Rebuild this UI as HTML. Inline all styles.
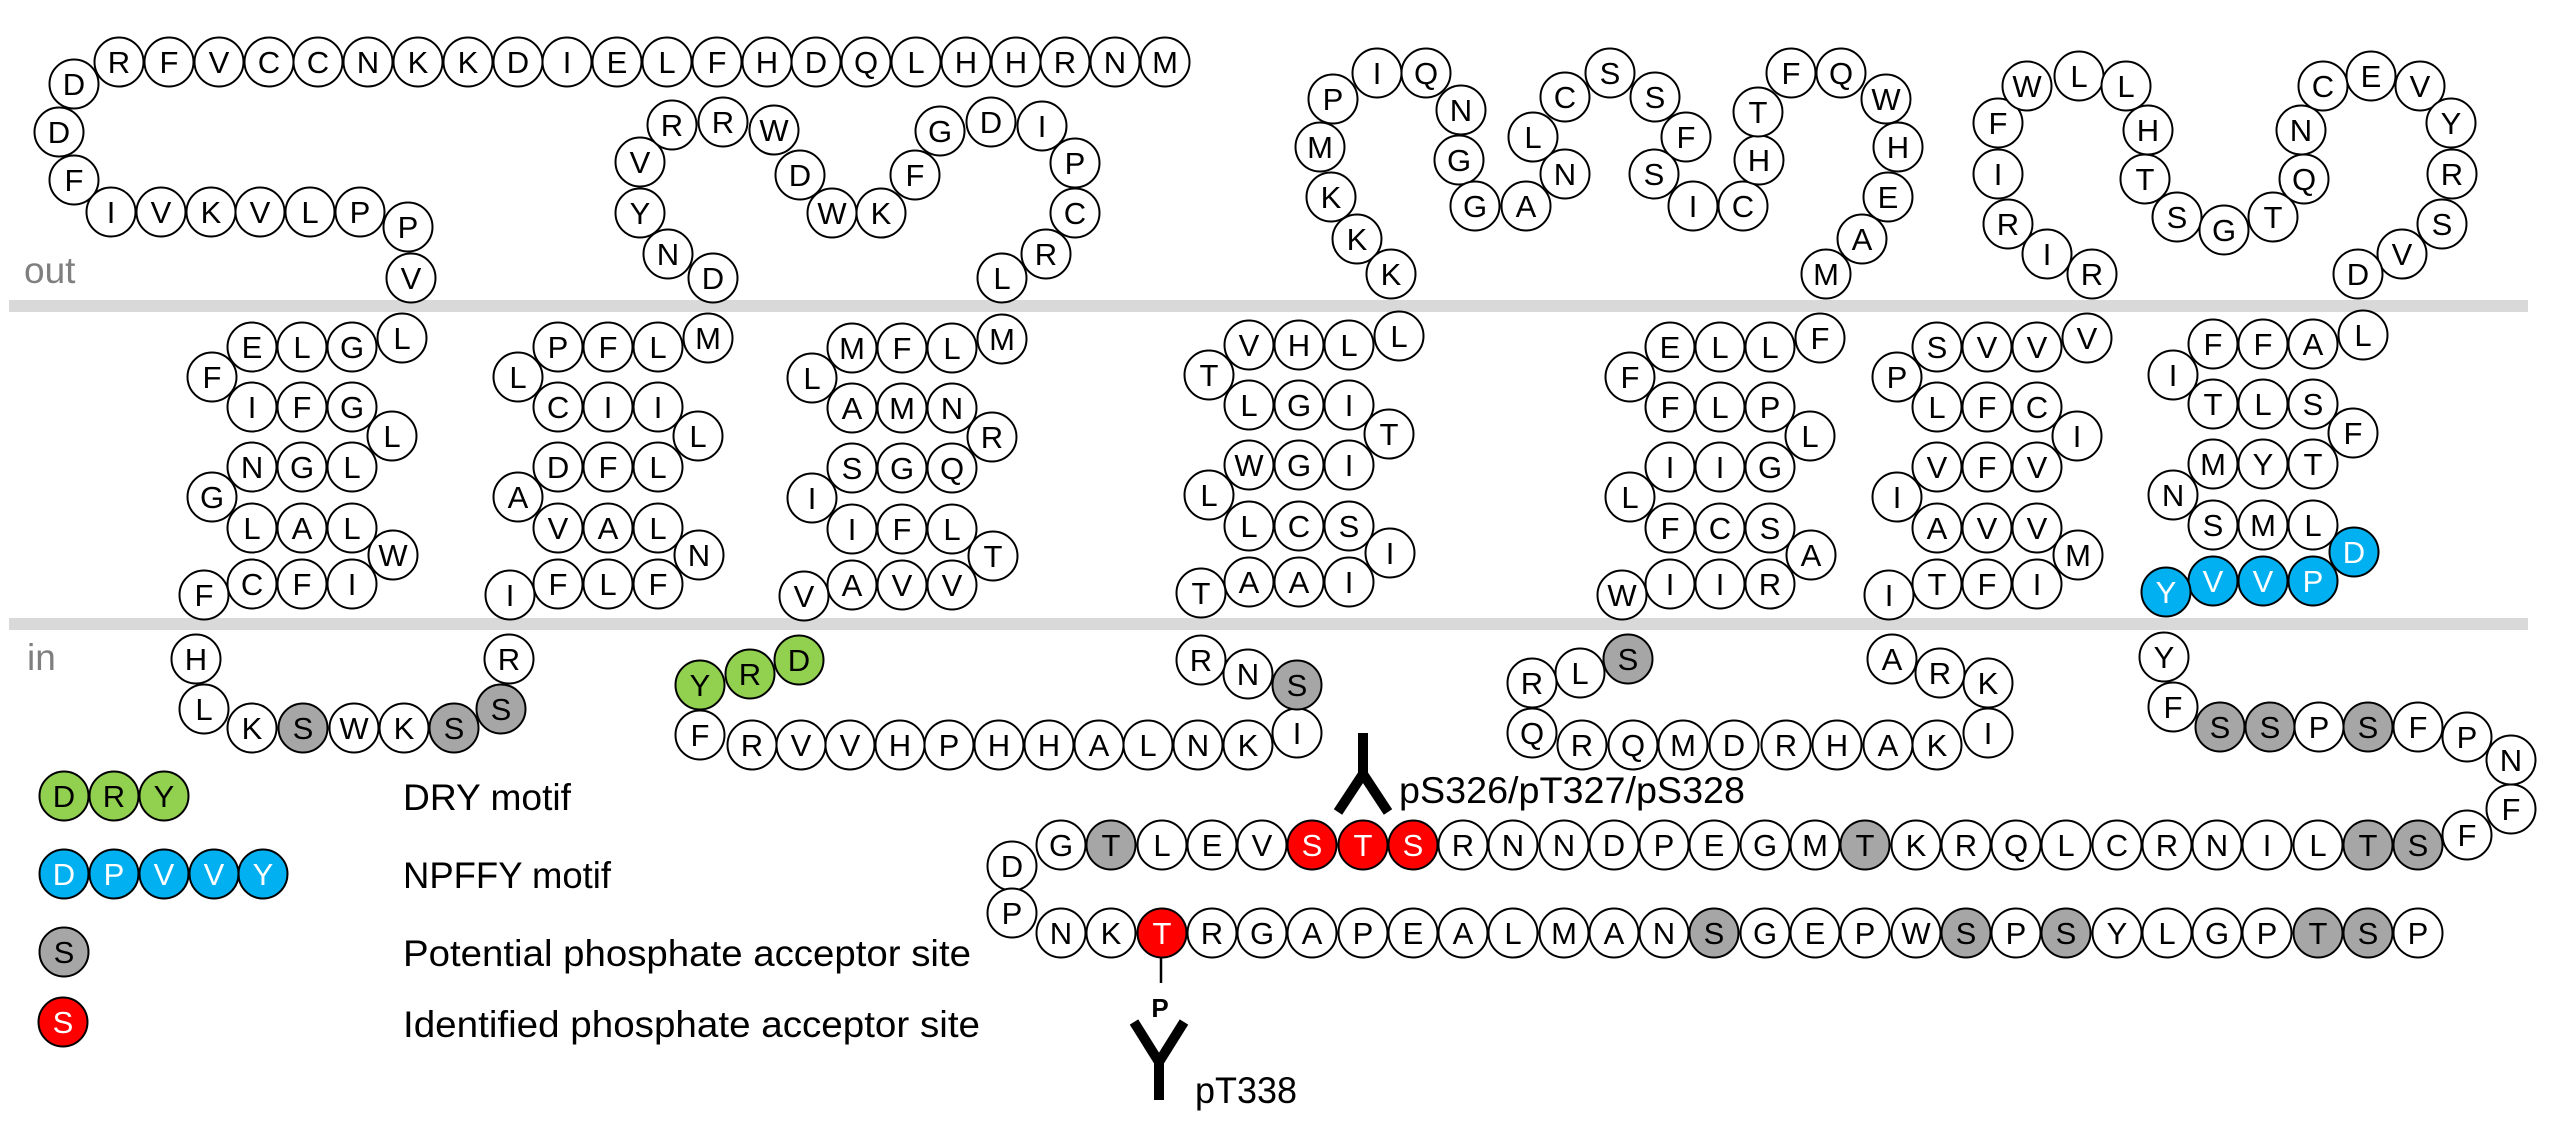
<!DOCTYPE html>
<html><head><meta charset="utf-8"><style>
html,body{margin:0;padding:0;background:#fff;}
svg{display:block;}
circle{fill:#fff;stroke:#000;stroke-width:2;}
circle.g{fill:#a6a6a6;}
circle.r{fill:#ff0000;}
circle.gr{fill:#92d050;}
circle.b{fill:#00b0f0;}
text{font-family:"Liberation Sans",sans-serif;}
.res text{font-size:31px;text-anchor:middle;fill:#000;}
.res text.w{fill:#fff;}
.lab{font-size:37px;fill:#000;}
.io{font-size:37px;fill:#7f7f7f;}
</style></head><body>
<svg width="2560" height="1128" viewBox="0 0 2560 1128" xmlns="http://www.w3.org/2000/svg">
<rect x="0" y="0" width="2560" height="1128" fill="#fff"/>
<rect x="9" y="300" width="2519" height="12" fill="#d9d9d9"/>
<rect x="9" y="618" width="2519" height="12" fill="#d9d9d9"/>
<text class="io" x="24" y="283">out</text>
<text class="io" x="27" y="670">in</text>

<g class="res">
<!-- N-term top row -->
<circle cx="119" cy="62" r="24.5"/><text x="119" y="73">R</text>
<circle cx="169" cy="62" r="24.5"/><text x="169" y="73">F</text>
<circle cx="219" cy="62" r="24.5"/><text x="219" y="73">V</text>
<circle cx="269" cy="62" r="24.5"/><text x="269" y="73">C</text>
<circle cx="318" cy="62" r="24.5"/><text x="318" y="73">C</text>
<circle cx="368" cy="62" r="24.5"/><text x="368" y="73">N</text>
<circle cx="418" cy="62" r="24.5"/><text x="418" y="73">K</text>
<circle cx="468" cy="62" r="24.5"/><text x="468" y="73">K</text>
<circle cx="518" cy="62" r="24.5"/><text x="518" y="73">D</text>
<circle cx="567" cy="62" r="24.5"/><text x="567" y="73">I</text>
<circle cx="617" cy="62" r="24.5"/><text x="617" y="73">E</text>
<circle cx="667" cy="62" r="24.5"/><text x="667" y="73">L</text>
<circle cx="717" cy="62" r="24.5"/><text x="717" y="73">F</text>
<circle cx="767" cy="62" r="24.5"/><text x="767" y="73">H</text>
<circle cx="816" cy="62" r="24.5"/><text x="816" y="73">D</text>
<circle cx="866" cy="62" r="24.5"/><text x="866" y="73">Q</text>
<circle cx="916" cy="62" r="24.5"/><text x="916" y="73">L</text>
<circle cx="966" cy="62" r="24.5"/><text x="966" y="73">H</text>
<circle cx="1016" cy="62" r="24.5"/><text x="1016" y="73">H</text>
<circle cx="1065" cy="62" r="24.5"/><text x="1065" y="73">R</text>
<circle cx="1115" cy="62" r="24.5"/><text x="1115" y="73">N</text>
<circle cx="1165" cy="62" r="24.5"/><text x="1165" y="73">M</text>
<circle cx="74" cy="84" r="24.5"/><text x="74" y="95">D</text>
<circle cx="59" cy="132" r="24.5"/><text x="59" y="143">D</text>
<circle cx="74" cy="180" r="24.5"/><text x="74" y="191">F</text>
<circle cx="111" cy="212" r="24.5"/><text x="111" y="223">I</text>
<circle cx="161" cy="212" r="24.5"/><text x="161" y="223">V</text>
<circle cx="211" cy="212" r="24.5"/><text x="211" y="223">K</text>
<circle cx="260" cy="212" r="24.5"/><text x="260" y="223">V</text>
<circle cx="310" cy="212" r="24.5"/><text x="310" y="223">L</text>
<circle cx="360" cy="212" r="24.5"/><text x="360" y="223">P</text>
<circle cx="408" cy="227" r="24.5"/><text x="408" y="238">P</text>
<circle cx="411" cy="278" r="24.5"/><text x="411" y="289">V</text>

<!-- ECL1 -->
<circle cx="640" cy="162" r="24.5"/><text x="640" y="173">V</text>
<circle cx="640" cy="213" r="24.5"/><text x="640" y="224">Y</text>
<circle cx="668" cy="254" r="24.5"/><text x="668" y="265">N</text>
<circle cx="713" cy="278" r="24.5"/><text x="713" y="289">D</text>
<circle cx="672" cy="125" r="24.5"/><text x="672" y="136">R</text>
<circle cx="723" cy="122" r="24.5"/><text x="723" y="133">R</text>
<circle cx="774" cy="130" r="24.5"/><text x="774" y="141">W</text>
<circle cx="800" cy="175" r="24.5"/><text x="800" y="186">D</text>
<circle cx="832" cy="213" r="24.5"/><text x="832" y="224">W</text>
<circle cx="881" cy="213" r="24.5"/><text x="881" y="224">K</text>
<circle cx="915" cy="175" r="24.5"/><text x="915" y="186">F</text>
<circle cx="940" cy="131" r="24.5"/><text x="940" y="142">G</text>
<circle cx="991" cy="122" r="24.5"/><text x="991" y="133">D</text>
<circle cx="1042" cy="126" r="24.5"/><text x="1042" y="137">I</text>
<circle cx="1075" cy="163" r="24.5"/><text x="1075" y="174">P</text>
<circle cx="1075" cy="213" r="24.5"/><text x="1075" y="224">C</text>
<circle cx="1046" cy="254" r="24.5"/><text x="1046" y="265">R</text>
<circle cx="1002" cy="278" r="24.5"/><text x="1002" y="289">L</text>

<!-- ECL2 -->
<circle cx="1320" cy="147" r="24.5"/><text x="1320" y="158">M</text>
<circle cx="1331" cy="197" r="24.5"/><text x="1331" y="208">K</text>
<circle cx="1357" cy="239" r="24.5"/><text x="1357" y="250">K</text>
<circle cx="1391" cy="274" r="24.5"/><text x="1391" y="285">K</text>
<circle cx="1333" cy="99" r="24.5"/><text x="1333" y="110">P</text>
<circle cx="1377" cy="73" r="24.5"/><text x="1377" y="84">I</text>
<circle cx="1426" cy="73" r="24.5"/><text x="1426" y="84">Q</text>
<circle cx="1461" cy="110" r="24.5"/><text x="1461" y="121">N</text>
<circle cx="1459" cy="160" r="24.5"/><text x="1459" y="171">G</text>
<circle cx="1475" cy="206" r="24.5"/><text x="1475" y="217">G</text>
<circle cx="1526" cy="206" r="24.5"/><text x="1526" y="217">A</text>
<circle cx="1565" cy="174" r="24.5"/><text x="1565" y="185">N</text>
<circle cx="1533" cy="137" r="24.5"/><text x="1533" y="148">L</text>
<circle cx="1565" cy="97" r="24.5"/><text x="1565" y="108">C</text>
<circle cx="1610" cy="73" r="24.5"/><text x="1610" y="84">S</text>
<circle cx="1655" cy="97" r="24.5"/><text x="1655" y="108">S</text>
<circle cx="1686" cy="137" r="24.5"/><text x="1686" y="148">F</text>
<circle cx="1654" cy="174" r="24.5"/><text x="1654" y="185">S</text>
<circle cx="1693" cy="206" r="24.5"/><text x="1693" y="217">I</text>
<circle cx="1743" cy="206" r="24.5"/><text x="1743" y="217">C</text>
<circle cx="1759" cy="160" r="24.5"/><text x="1759" y="171">H</text>
<circle cx="1758" cy="112" r="24.5"/><text x="1758" y="123">T</text>
<circle cx="1791" cy="73" r="24.5"/><text x="1791" y="84">F</text>
<circle cx="1841" cy="73" r="24.5"/><text x="1841" y="84">Q</text>
<circle cx="1886" cy="99" r="24.5"/><text x="1886" y="110">W</text>
<circle cx="1898" cy="147" r="24.5"/><text x="1898" y="158">H</text>
<circle cx="1888" cy="197" r="24.5"/><text x="1888" y="208">E</text>
<circle cx="1862" cy="239" r="24.5"/><text x="1862" y="250">A</text>
<circle cx="1826" cy="274" r="24.5"/><text x="1826" y="285">M</text>

<!-- ECL3 -->
<circle cx="1998" cy="123" r="24.5"/><text x="1998" y="134">F</text>
<circle cx="2027" cy="86" r="24.5"/><text x="2027" y="97">W</text>
<circle cx="2079" cy="76" r="24.5"/><text x="2079" y="87">L</text>
<circle cx="2126" cy="86" r="24.5"/><text x="2126" y="97">L</text>
<circle cx="2148" cy="130" r="24.5"/><text x="2148" y="141">H</text>
<circle cx="2145" cy="179" r="24.5"/><text x="2145" y="190">T</text>
<circle cx="2177" cy="217" r="24.5"/><text x="2177" y="228">S</text>
<circle cx="2224" cy="230" r="24.5"/><text x="2224" y="241">G</text>
<circle cx="2273" cy="217" r="24.5"/><text x="2273" y="228">T</text>
<circle cx="2304" cy="179" r="24.5"/><text x="2304" y="190">Q</text>
<circle cx="2301" cy="130" r="24.5"/><text x="2301" y="141">N</text>
<circle cx="2323" cy="86" r="24.5"/><text x="2323" y="97">C</text>
<circle cx="2371" cy="76" r="24.5"/><text x="2371" y="87">E</text>
<circle cx="2420" cy="86" r="24.5"/><text x="2420" y="97">V</text>
<circle cx="2451" cy="123" r="24.5"/><text x="2451" y="134">Y</text>
<circle cx="2452" cy="174" r="24.5"/><text x="2452" y="185">R</text>
<circle cx="2442" cy="224" r="24.5"/><text x="2442" y="235">S</text>
<circle cx="2402" cy="254" r="24.5"/><text x="2402" y="265">V</text>
<circle cx="2358" cy="274" r="24.5"/><text x="2358" y="285">D</text>
<circle cx="1998" cy="174" r="24.5"/><text x="1998" y="185">I</text>
<circle cx="2008" cy="224" r="24.5"/><text x="2008" y="235">R</text>
<circle cx="2047" cy="254" r="24.5"/><text x="2047" y="265">I</text>
<circle cx="2092" cy="274" r="24.5"/><text x="2092" y="285">R</text>

<!-- TM1 -->
<g transform="translate(252,0)">
<circle cx="0" cy="347" r="24.5"/><text x="0" y="358">E</text>
<circle cx="50" cy="347" r="24.5"/><text x="50" y="358">L</text>
<circle cx="100" cy="347" r="24.5"/><text x="100" y="358">G</text>
<circle cx="150" cy="338" r="24.5"/><text x="150" y="349">L</text>
<circle cx="-40" cy="377" r="24.5"/><text x="-40" y="388">F</text>
<circle cx="0" cy="407" r="24.5"/><text x="0" y="418">I</text>
<circle cx="50" cy="407" r="24.5"/><text x="50" y="418">F</text>
<circle cx="100" cy="407" r="24.5"/><text x="100" y="418">G</text>
<circle cx="140" cy="436" r="24.5"/><text x="140" y="447">L</text>
<circle cx="0" cy="467" r="24.5"/><text x="0" y="478">N</text>
<circle cx="50" cy="467" r="24.5"/><text x="50" y="478">G</text>
<circle cx="100" cy="467" r="24.5"/><text x="100" y="478">L</text>
<circle cx="-40" cy="497" r="24.5"/><text x="-40" y="508">G</text>
<circle cx="0" cy="528" r="24.5"/><text x="0" y="539">L</text>
<circle cx="50" cy="528" r="24.5"/><text x="50" y="539">A</text>
<circle cx="100" cy="528" r="24.5"/><text x="100" y="539">L</text>
<circle cx="141" cy="555" r="24.5"/><text x="141" y="566">W</text>
<circle cx="0" cy="584" r="24.5"/><text x="0" y="595">C</text>
<circle cx="50" cy="584" r="24.5"/><text x="50" y="595">F</text>
<circle cx="100" cy="584" r="24.5"/><text x="100" y="595">I</text>
<circle cx="-48" cy="595" r="24.5"/><text x="-48" y="606">F</text>
</g>

<!-- TM2 -->
<g transform="translate(558,0)">
<circle cx="0" cy="347" r="24.5"/><text x="0" y="358">P</text>
<circle cx="50" cy="347" r="24.5"/><text x="50" y="358">F</text>
<circle cx="100" cy="347" r="24.5"/><text x="100" y="358">L</text>
<circle cx="150" cy="338" r="24.5"/><text x="150" y="349">M</text>
<circle cx="-40" cy="377" r="24.5"/><text x="-40" y="388">L</text>
<circle cx="0" cy="407" r="24.5"/><text x="0" y="418">C</text>
<circle cx="50" cy="407" r="24.5"/><text x="50" y="418">I</text>
<circle cx="100" cy="407" r="24.5"/><text x="100" y="418">I</text>
<circle cx="140" cy="436" r="24.5"/><text x="140" y="447">L</text>
<circle cx="0" cy="467" r="24.5"/><text x="0" y="478">D</text>
<circle cx="50" cy="467" r="24.5"/><text x="50" y="478">F</text>
<circle cx="100" cy="467" r="24.5"/><text x="100" y="478">L</text>
<circle cx="-40" cy="497" r="24.5"/><text x="-40" y="508">A</text>
<circle cx="0" cy="528" r="24.5"/><text x="0" y="539">V</text>
<circle cx="50" cy="528" r="24.5"/><text x="50" y="539">A</text>
<circle cx="100" cy="528" r="24.5"/><text x="100" y="539">L</text>
<circle cx="141" cy="555" r="24.5"/><text x="141" y="566">N</text>
<circle cx="0" cy="584" r="24.5"/><text x="0" y="595">F</text>
<circle cx="50" cy="584" r="24.5"/><text x="50" y="595">L</text>
<circle cx="100" cy="584" r="24.5"/><text x="100" y="595">F</text>
<circle cx="-48" cy="595" r="24.5"/><text x="-48" y="606">I</text>
</g>

<!-- TM3 -->
<g transform="translate(852,1)">
<circle cx="0" cy="347" r="24.5"/><text x="0" y="358">M</text>
<circle cx="50" cy="347" r="24.5"/><text x="50" y="358">F</text>
<circle cx="100" cy="347" r="24.5"/><text x="100" y="358">L</text>
<circle cx="150" cy="338" r="24.5"/><text x="150" y="349">M</text>
<circle cx="-40" cy="377" r="24.5"/><text x="-40" y="388">L</text>
<circle cx="0" cy="407" r="24.5"/><text x="0" y="418">A</text>
<circle cx="50" cy="407" r="24.5"/><text x="50" y="418">M</text>
<circle cx="100" cy="407" r="24.5"/><text x="100" y="418">N</text>
<circle cx="140" cy="436" r="24.5"/><text x="140" y="447">R</text>
<circle cx="0" cy="467" r="24.5"/><text x="0" y="478">S</text>
<circle cx="50" cy="467" r="24.5"/><text x="50" y="478">G</text>
<circle cx="100" cy="467" r="24.5"/><text x="100" y="478">Q</text>
<circle cx="-40" cy="497" r="24.5"/><text x="-40" y="508">I</text>
<circle cx="0" cy="528" r="24.5"/><text x="0" y="539">I</text>
<circle cx="50" cy="528" r="24.5"/><text x="50" y="539">F</text>
<circle cx="100" cy="528" r="24.5"/><text x="100" y="539">L</text>
<circle cx="141" cy="555" r="24.5"/><text x="141" y="566">T</text>
<circle cx="0" cy="584" r="24.5"/><text x="0" y="595">A</text>
<circle cx="50" cy="584" r="24.5"/><text x="50" y="595">V</text>
<circle cx="100" cy="584" r="24.5"/><text x="100" y="595">V</text>
<circle cx="-48" cy="595" r="24.5"/><text x="-48" y="606">V</text>
</g>

<!-- TM4 -->
<g transform="translate(1249,-2)">
<circle cx="0" cy="347" r="24.5"/><text x="0" y="358">V</text>
<circle cx="50" cy="347" r="24.5"/><text x="50" y="358">H</text>
<circle cx="100" cy="347" r="24.5"/><text x="100" y="358">L</text>
<circle cx="150" cy="338" r="24.5"/><text x="150" y="349">L</text>
<circle cx="-40" cy="377" r="24.5"/><text x="-40" y="388">T</text>
<circle cx="0" cy="407" r="24.5"/><text x="0" y="418">L</text>
<circle cx="50" cy="407" r="24.5"/><text x="50" y="418">G</text>
<circle cx="100" cy="407" r="24.5"/><text x="100" y="418">I</text>
<circle cx="140" cy="436" r="24.5"/><text x="140" y="447">T</text>
<circle cx="0" cy="467" r="24.5"/><text x="0" y="478">W</text>
<circle cx="50" cy="467" r="24.5"/><text x="50" y="478">G</text>
<circle cx="100" cy="467" r="24.5"/><text x="100" y="478">I</text>
<circle cx="-40" cy="497" r="24.5"/><text x="-40" y="508">L</text>
<circle cx="0" cy="528" r="24.5"/><text x="0" y="539">L</text>
<circle cx="50" cy="528" r="24.5"/><text x="50" y="539">C</text>
<circle cx="100" cy="528" r="24.5"/><text x="100" y="539">S</text>
<circle cx="141" cy="555" r="24.5"/><text x="141" y="566">I</text>
<circle cx="0" cy="584" r="24.5"/><text x="0" y="595">A</text>
<circle cx="50" cy="584" r="24.5"/><text x="50" y="595">A</text>
<circle cx="100" cy="584" r="24.5"/><text x="100" y="595">I</text>
<circle cx="-48" cy="595" r="24.5"/><text x="-48" y="606">T</text>
</g>

<!-- TM5 -->
<g transform="translate(1670,0)">
<circle cx="0" cy="347" r="24.5"/><text x="0" y="358">E</text>
<circle cx="50" cy="347" r="24.5"/><text x="50" y="358">L</text>
<circle cx="100" cy="347" r="24.5"/><text x="100" y="358">L</text>
<circle cx="150" cy="338" r="24.5"/><text x="150" y="349">F</text>
<circle cx="-40" cy="377" r="24.5"/><text x="-40" y="388">F</text>
<circle cx="0" cy="407" r="24.5"/><text x="0" y="418">F</text>
<circle cx="50" cy="407" r="24.5"/><text x="50" y="418">L</text>
<circle cx="100" cy="407" r="24.5"/><text x="100" y="418">P</text>
<circle cx="140" cy="436" r="24.5"/><text x="140" y="447">L</text>
<circle cx="0" cy="467" r="24.5"/><text x="0" y="478">I</text>
<circle cx="50" cy="467" r="24.5"/><text x="50" y="478">I</text>
<circle cx="100" cy="467" r="24.5"/><text x="100" y="478">G</text>
<circle cx="-40" cy="497" r="24.5"/><text x="-40" y="508">L</text>
<circle cx="0" cy="528" r="24.5"/><text x="0" y="539">F</text>
<circle cx="50" cy="528" r="24.5"/><text x="50" y="539">C</text>
<circle cx="100" cy="528" r="24.5"/><text x="100" y="539">S</text>
<circle cx="141" cy="555" r="24.5"/><text x="141" y="566">A</text>
<circle cx="0" cy="584" r="24.5"/><text x="0" y="595">I</text>
<circle cx="50" cy="584" r="24.5"/><text x="50" y="595">I</text>
<circle cx="100" cy="584" r="24.5"/><text x="100" y="595">R</text>
<circle cx="-48" cy="595" r="24.5"/><text x="-48" y="606">W</text>
</g>

<!-- TM6 -->
<g transform="translate(1937,0)">
<circle cx="0" cy="347" r="24.5"/><text x="0" y="358">S</text>
<circle cx="50" cy="347" r="24.5"/><text x="50" y="358">V</text>
<circle cx="100" cy="347" r="24.5"/><text x="100" y="358">V</text>
<circle cx="150" cy="338" r="24.5"/><text x="150" y="349">V</text>
<circle cx="-40" cy="377" r="24.5"/><text x="-40" y="388">P</text>
<circle cx="0" cy="407" r="24.5"/><text x="0" y="418">L</text>
<circle cx="50" cy="407" r="24.5"/><text x="50" y="418">F</text>
<circle cx="100" cy="407" r="24.5"/><text x="100" y="418">C</text>
<circle cx="140" cy="436" r="24.5"/><text x="140" y="447">I</text>
<circle cx="0" cy="467" r="24.5"/><text x="0" y="478">V</text>
<circle cx="50" cy="467" r="24.5"/><text x="50" y="478">F</text>
<circle cx="100" cy="467" r="24.5"/><text x="100" y="478">V</text>
<circle cx="-40" cy="497" r="24.5"/><text x="-40" y="508">I</text>
<circle cx="0" cy="528" r="24.5"/><text x="0" y="539">A</text>
<circle cx="50" cy="528" r="24.5"/><text x="50" y="539">V</text>
<circle cx="100" cy="528" r="24.5"/><text x="100" y="539">V</text>
<circle cx="141" cy="555" r="24.5"/><text x="141" y="566">M</text>
<circle cx="0" cy="584" r="24.5"/><text x="0" y="595">T</text>
<circle cx="50" cy="584" r="24.5"/><text x="50" y="595">F</text>
<circle cx="100" cy="584" r="24.5"/><text x="100" y="595">I</text>
<circle cx="-48" cy="595" r="24.5"/><text x="-48" y="606">I</text>
</g>

<!-- TM7 -->
<g transform="translate(2213,-3)">
<circle cx="0" cy="347" r="24.5"/><text x="0" y="358">F</text>
<circle cx="50" cy="347" r="24.5"/><text x="50" y="358">F</text>
<circle cx="100" cy="347" r="24.5"/><text x="100" y="358">A</text>
<circle cx="150" cy="338" r="24.5"/><text x="150" y="349">L</text>
<circle cx="-40" cy="378" r="24.5"/><text x="-40" y="389">I</text>
<circle cx="0" cy="407" r="24.5"/><text x="0" y="418">T</text>
<circle cx="50" cy="407" r="24.5"/><text x="50" y="418">L</text>
<circle cx="100" cy="407" r="24.5"/><text x="100" y="418">S</text>
<circle cx="140" cy="436" r="24.5"/><text x="140" y="447">F</text>
<circle cx="0" cy="467" r="24.5"/><text x="0" y="478">M</text>
<circle cx="50" cy="467" r="24.5"/><text x="50" y="478">Y</text>
<circle cx="100" cy="467" r="24.5"/><text x="100" y="478">T</text>
<circle cx="-40" cy="498" r="24.5"/><text x="-40" y="509">N</text>
<circle cx="0" cy="528" r="24.5"/><text x="0" y="539">S</text>
<circle cx="50" cy="528" r="24.5"/><text x="50" y="539">M</text>
<circle cx="100" cy="528" r="24.5"/><text x="100" y="539">L</text>
<circle class="b" cx="141" cy="555" r="24.5"/><text class="w" x="141" y="566">D</text>
<circle class="b" cx="0" cy="584" r="24.5"/><text class="w" x="0" y="595">V</text>
<circle class="b" cx="50" cy="584" r="24.5"/><text class="w" x="50" y="595">V</text>
<circle class="b" cx="100" cy="584" r="24.5"/><text class="w" x="100" y="595">P</text>
<circle class="b" cx="-47" cy="595" r="24.5"/><text class="w" x="-47" y="606">Y</text>
</g>

<!-- ICL1 -->
<circle cx="196" cy="659" r="24.5"/><text x="196" y="670">H</text>
<circle cx="204" cy="709" r="24.5"/><text x="204" y="720">L</text>
<circle cx="252" cy="728" r="24.5"/><text x="252" y="739">K</text>
<circle class="g" cx="303" cy="728" r="24.5"/><text x="303" y="739">S</text>
<circle cx="354" cy="728" r="24.5"/><text x="354" y="739">W</text>
<circle cx="404" cy="728" r="24.5"/><text x="404" y="739">K</text>
<circle class="g" cx="454" cy="728" r="24.5"/><text x="454" y="739">S</text>
<circle class="g" cx="501" cy="709" r="24.5"/><text x="501" y="720">S</text>
<circle cx="509" cy="659" r="24.5"/><text x="509" y="670">R</text>

<!-- ICL2 -->
<circle class="gr" cx="700" cy="685" r="24.5"/><text x="700" y="696">Y</text>
<circle class="gr" cx="750" cy="674" r="24.5"/><text x="750" y="685">R</text>
<circle class="gr" cx="799" cy="660" r="24.5"/><text x="799" y="671">D</text>
<circle cx="700" cy="735" r="24.5"/><text x="700" y="746">F</text>
<circle cx="752" cy="745" r="24.5"/><text x="752" y="756">R</text>
<circle cx="801" cy="745" r="24.5"/><text x="801" y="756">V</text>
<circle cx="850" cy="745" r="24.5"/><text x="850" y="756">V</text>
<circle cx="900" cy="745" r="24.5"/><text x="900" y="756">H</text>
<circle cx="949" cy="745" r="24.5"/><text x="949" y="756">P</text>
<circle cx="999" cy="745" r="24.5"/><text x="999" y="756">H</text>
<circle cx="1049" cy="745" r="24.5"/><text x="1049" y="756">H</text>
<circle cx="1099" cy="745" r="24.5"/><text x="1099" y="756">A</text>
<circle cx="1148" cy="745" r="24.5"/><text x="1148" y="756">L</text>
<circle cx="1198" cy="745" r="24.5"/><text x="1198" y="756">N</text>
<circle cx="1248" cy="745" r="24.5"/><text x="1248" y="756">K</text>
<circle cx="1297" cy="733" r="24.5"/><text x="1297" y="744">I</text>
<circle class="g" cx="1297" cy="685" r="24.5"/><text x="1297" y="696">S</text>
<circle cx="1248" cy="674" r="24.5"/><text x="1248" y="685">N</text>
<circle cx="1201" cy="660" r="24.5"/><text x="1201" y="671">R</text>

<!-- ICL3 -->
<circle class="g" cx="1628" cy="659" r="24.5"/><text x="1628" y="670">S</text>
<circle cx="1580" cy="673" r="24.5"/><text x="1580" y="684">L</text>
<circle cx="1532" cy="683" r="24.5"/><text x="1532" y="694">R</text>
<circle cx="1532" cy="733" r="24.5"/><text x="1532" y="744">Q</text>
<circle cx="1582" cy="745" r="24.5"/><text x="1582" y="756">R</text>
<circle cx="1633" cy="745" r="24.5"/><text x="1633" y="756">Q</text>
<circle cx="1683" cy="745" r="24.5"/><text x="1683" y="756">M</text>
<circle cx="1734" cy="745" r="24.5"/><text x="1734" y="756">D</text>
<circle cx="1786" cy="745" r="24.5"/><text x="1786" y="756">R</text>
<circle cx="1837" cy="745" r="24.5"/><text x="1837" y="756">H</text>
<circle cx="1888" cy="745" r="24.5"/><text x="1888" y="756">A</text>
<circle cx="1937" cy="745" r="24.5"/><text x="1937" y="756">K</text>
<circle cx="1988" cy="733" r="24.5"/><text x="1988" y="744">I</text>
<circle cx="1988" cy="683" r="24.5"/><text x="1988" y="694">K</text>
<circle cx="1940" cy="673" r="24.5"/><text x="1940" y="684">R</text>
<circle cx="1892" cy="659" r="24.5"/><text x="1892" y="670">A</text>

<!-- Helix 8 / C-term -->
<circle cx="2164" cy="657" r="24.5"/><text x="2164" y="668">Y</text>
<circle cx="2173" cy="707" r="24.5"/><text x="2173" y="718">F</text>
<circle class="g" cx="2220" cy="727" r="24.5"/><text x="2220" y="738">S</text>
<circle class="g" cx="2270" cy="727" r="24.5"/><text x="2270" y="738">S</text>
<circle cx="2319" cy="727" r="24.5"/><text x="2319" y="738">P</text>
<circle class="g" cx="2368" cy="727" r="24.5"/><text x="2368" y="738">S</text>
<circle cx="2418" cy="727" r="24.5"/><text x="2418" y="738">F</text>
<circle cx="2467" cy="737" r="24.5"/><text x="2467" y="748">P</text>
<circle cx="2511" cy="760" r="24.5"/><text x="2511" y="771">N</text>
<circle cx="2511" cy="809" r="24.5"/><text x="2511" y="820">F</text>
<circle cx="2467" cy="835" r="24.5"/><text x="2467" y="846">F</text>

<!-- upper C-term row -->
<circle cx="1061" cy="845" r="24.5"/><text x="1061" y="856">G</text>
<circle class="g" cx="1111" cy="845" r="24.5"/><text x="1111" y="856">T</text>
<circle cx="1162" cy="845" r="24.5"/><text x="1162" y="856">L</text>
<circle cx="1212" cy="845" r="24.5"/><text x="1212" y="856">E</text>
<circle cx="1262" cy="845" r="24.5"/><text x="1262" y="856">V</text>
<circle class="r" cx="1312" cy="845" r="24.5"/><text class="w" x="1312" y="856">S</text>
<circle class="r" cx="1363" cy="845" r="24.5"/><text class="w" x="1363" y="856">T</text>
<circle class="r" cx="1413" cy="845" r="24.5"/><text class="w" x="1413" y="856">S</text>
<circle cx="1463" cy="845" r="24.5"/><text x="1463" y="856">R</text>
<circle cx="1513" cy="845" r="24.5"/><text x="1513" y="856">N</text>
<circle cx="1564" cy="845" r="24.5"/><text x="1564" y="856">N</text>
<circle cx="1614" cy="845" r="24.5"/><text x="1614" y="856">D</text>
<circle cx="1664" cy="845" r="24.5"/><text x="1664" y="856">P</text>
<circle cx="1714" cy="845" r="24.5"/><text x="1714" y="856">E</text>
<circle cx="1765" cy="845" r="24.5"/><text x="1765" y="856">G</text>
<circle cx="1815" cy="845" r="24.5"/><text x="1815" y="856">M</text>
<circle class="g" cx="1865" cy="845" r="24.5"/><text x="1865" y="856">T</text>
<circle cx="1916" cy="845" r="24.5"/><text x="1916" y="856">K</text>
<circle cx="1966" cy="845" r="24.5"/><text x="1966" y="856">R</text>
<circle cx="2016" cy="845" r="24.5"/><text x="2016" y="856">Q</text>
<circle cx="2066" cy="845" r="24.5"/><text x="2066" y="856">L</text>
<circle cx="2117" cy="845" r="24.5"/><text x="2117" y="856">C</text>
<circle cx="2167" cy="845" r="24.5"/><text x="2167" y="856">R</text>
<circle cx="2217" cy="845" r="24.5"/><text x="2217" y="856">N</text>
<circle cx="2267" cy="845" r="24.5"/><text x="2267" y="856">I</text>
<circle cx="2318" cy="845" r="24.5"/><text x="2318" y="856">L</text>
<circle class="g" cx="2368" cy="845" r="24.5"/><text x="2368" y="856">T</text>
<circle class="g" cx="2418" cy="845" r="24.5"/><text x="2418" y="856">S</text>

<circle cx="1012" cy="866" r="24.5"/><text x="1012" y="877">D</text>
<circle cx="1012" cy="913" r="24.5"/><text x="1012" y="924">P</text>

<!-- lower C-term row -->
<circle cx="1061" cy="933" r="24.5"/><text x="1061" y="944">N</text>
<circle cx="1111" cy="933" r="24.5"/><text x="1111" y="944">K</text>
<circle class="r" cx="1162" cy="933" r="24.5"/><text class="w" x="1162" y="944">T</text>
<circle cx="1212" cy="933" r="24.5"/><text x="1212" y="944">R</text>
<circle cx="1262" cy="933" r="24.5"/><text x="1262" y="944">G</text>
<circle cx="1312" cy="933" r="24.5"/><text x="1312" y="944">A</text>
<circle cx="1363" cy="933" r="24.5"/><text x="1363" y="944">P</text>
<circle cx="1413" cy="933" r="24.5"/><text x="1413" y="944">E</text>
<circle cx="1463" cy="933" r="24.5"/><text x="1463" y="944">A</text>
<circle cx="1513" cy="933" r="24.5"/><text x="1513" y="944">L</text>
<circle cx="1564" cy="933" r="24.5"/><text x="1564" y="944">M</text>
<circle cx="1614" cy="933" r="24.5"/><text x="1614" y="944">A</text>
<circle cx="1664" cy="933" r="24.5"/><text x="1664" y="944">N</text>
<circle class="g" cx="1714" cy="933" r="24.5"/><text x="1714" y="944">S</text>
<circle cx="1765" cy="933" r="24.5"/><text x="1765" y="944">G</text>
<circle cx="1815" cy="933" r="24.5"/><text x="1815" y="944">E</text>
<circle cx="1865" cy="933" r="24.5"/><text x="1865" y="944">P</text>
<circle cx="1916" cy="933" r="24.5"/><text x="1916" y="944">W</text>
<circle class="g" cx="1966" cy="933" r="24.5"/><text x="1966" y="944">S</text>
<circle cx="2016" cy="933" r="24.5"/><text x="2016" y="944">P</text>
<circle class="g" cx="2066" cy="933" r="24.5"/><text x="2066" y="944">S</text>
<circle cx="2117" cy="933" r="24.5"/><text x="2117" y="944">Y</text>
<circle cx="2167" cy="933" r="24.5"/><text x="2167" y="944">L</text>
<circle cx="2217" cy="933" r="24.5"/><text x="2217" y="944">G</text>
<circle cx="2267" cy="933" r="24.5"/><text x="2267" y="944">P</text>
<circle class="g" cx="2318" cy="933" r="24.5"/><text x="2318" y="944">T</text>
<circle class="g" cx="2368" cy="933" r="24.5"/><text x="2368" y="944">S</text>
<circle cx="2418" cy="933" r="24.5"/><text x="2418" y="944">P</text>

<!-- Legend circles -->
<circle class="gr" cx="64" cy="796" r="24.5"/><text x="64" y="807">D</text>
<circle class="gr" cx="114" cy="796" r="24.5"/><text x="114" y="807">R</text>
<circle class="gr" cx="164" cy="796" r="24.5"/><text x="164" y="807">Y</text>
<circle class="b" cx="64" cy="874" r="24.5"/><text class="w" x="64" y="885">D</text>
<circle class="b" cx="114" cy="874" r="24.5"/><text class="w" x="114" y="885">P</text>
<circle class="b" cx="164" cy="874" r="24.5"/><text class="w" x="164" y="885">V</text>
<circle class="b" cx="214" cy="874" r="24.5"/><text class="w" x="214" y="885">V</text>
<circle class="b" cx="263" cy="874" r="24.5"/><text class="w" x="263" y="885">Y</text>
<circle class="g" cx="64" cy="952" r="24.5"/><text x="64" y="963">S</text>
<circle class="r" cx="63" cy="1022" r="24.5"/><text class="w" x="63" y="1033">S</text>
</g>

<!-- Legend text -->
<text class="lab" x="403" y="810" textLength="168" lengthAdjust="spacingAndGlyphs">DRY motif</text>
<text class="lab" x="403" y="888" textLength="208" lengthAdjust="spacingAndGlyphs">NPFFY motif</text>
<text class="lab" x="403" y="966" textLength="568" lengthAdjust="spacingAndGlyphs">Potential phosphate acceptor site</text>
<text class="lab" x="403" y="1037" textLength="577" lengthAdjust="spacingAndGlyphs">Identified phosphate acceptor site</text>

<!-- Antibody 1 (inverted Y) -->
<line x1="1363" y1="733" x2="1363" y2="780" stroke="#000" stroke-width="10"/>
<polyline points="1338,812 1363,774 1388,812" fill="none" stroke="#000" stroke-width="10" stroke-linejoin="miter"/>
<text class="lab" x="1399" y="803" textLength="346" lengthAdjust="spacingAndGlyphs">pS326/pT327/pS328</text>

<!-- Antibody 2 -->
<line x1="1161" y1="958" x2="1161" y2="983" stroke="#000" stroke-width="2.5"/>
<text x="1160" y="1017" font-size="26" font-weight="bold" text-anchor="middle" fill="#000">P</text>
<polyline points="1134,1022 1159,1062 1184,1022" fill="none" stroke="#000" stroke-width="10" stroke-linejoin="miter"/>
<line x1="1159" y1="1056" x2="1159" y2="1100" stroke="#000" stroke-width="10"/>
<text class="lab" x="1195" y="1103" textLength="102" lengthAdjust="spacingAndGlyphs">pT338</text>
</svg>
</body></html>
